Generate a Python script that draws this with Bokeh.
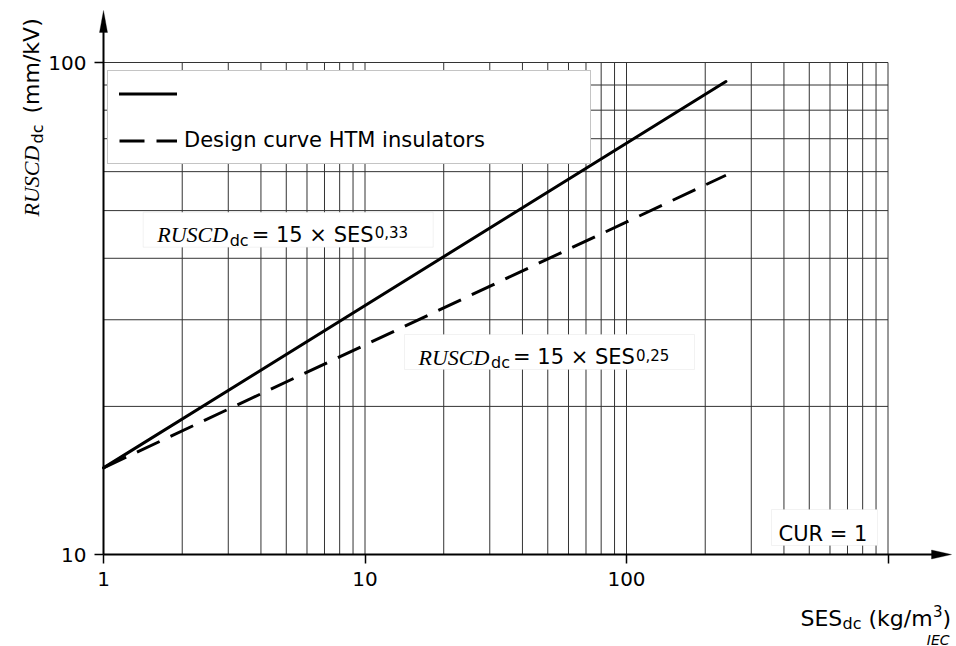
import math
from bokeh.plotting import figure
from bokeh.models import (Range1d, FixedTicker, Legend, LegendItem, BoxAnnotation,
                          Label, PolyAnnotation)
from bokeh.embed import file_html
from bokeh.resources import INLINE

# ---------------- data ----------------
ses_solid = [1, 240]
ruscd_solid = [15, 91.5]
ses_dashed = [1, 240]
ruscd_dashed = [15, 59]

x_ticks = [1, 10, 100, 1000]
x_tick_labels = ["1", "10", "100", ""]
y_ticks = [10, 100]
y_tick_labels = ["10", "100"]

x_grid = [2, 3, 4, 5, 6, 7, 8, 9, 10, 20, 30, 40, 50, 60, 70, 80, 90,
          100, 200, 300, 400, 500, 600, 700, 800, 900, 1000]
y_grid = [20, 30, 40, 50, 60, 70, 80, 90, 100]
grid_x_span = [1, 1000]
grid_y_span = [10, 100]

legend_labels = ["", "Design curve HTM insulators"]
eq1 = ["RUSCD", "dc", "= 15 × SES", "0,33"]
eq2 = ["RUSCD", "dc", "= 15 × SES", "0,25"]
cur_text = "CUR = 1"
x_title = ["SES", "dc", "(kg/m", "3", ")"]
y_title = ["RUSCD", "dc", "(mm/kV)"]
source_text = "IEC"

# ---------------- layout helpers (page pixel -> data) ----------------
W, H = 956, 646
FX0 = 103.0      # pixel x of SES = 1
FY0 = 554.0      # pixel y of RUSCD = 10
DEC_X = 261.5
DEC_Y = 492.0


def xd(px):
    return 10 ** ((px - FX0) / DEC_X)


def yd(py):
    return 10 ** (1 + (FY0 - py) / DEC_Y)


SANS = "DejaVu Sans"
SERIF = "Liberation Serif"

p = figure(width=W, height=H, x_axis_type="log", y_axis_type="log",
           x_range=Range1d(xd(0), xd(W)), y_range=Range1d(yd(H), yd(0)),
           output_backend="svg", toolbar_location=None,
           min_border_left=0, min_border_right=0, min_border_top=0,
           min_border_bottom=0)
p.outline_line_color = None
p.grid.visible = False
p.background_fill_color = "white"
p.border_fill_color = "white"

# grid
p.segment(x0=x_grid, y0=[grid_y_span[0]] * len(x_grid), x1=x_grid,
          y1=[grid_y_span[1]] * len(x_grid), line_color="#333333", line_width=1)
p.segment(x0=[grid_x_span[0]] * len(y_grid), y0=y_grid,
          x1=[grid_x_span[1]] * len(y_grid), y1=y_grid,
          line_color="#333333", line_width=1)

# curves
r1 = p.line(ses_solid, ruscd_solid, line_width=3, line_color="black", line_cap="round")
r2 = p.line(ses_dashed, ruscd_dashed, line_width=3, line_color="black",
            line_dash="25 12")

# axes (placed at SES = 1 and RUSCD = 10)
for ax, ticks, labels in ((p.xaxis[0], x_ticks, x_tick_labels),
                          (p.yaxis[0], y_ticks, y_tick_labels)):
    ax.ticker = FixedTicker(ticks=ticks, minor_ticks=[])
    ax.major_label_overrides = {t: l for t, l in zip(ticks, labels)}
    ax.major_tick_out = 9
    ax.major_tick_in = 0
    ax.major_tick_line_width = 1.5
    ax.major_tick_line_color = "black"
    ax.minor_tick_line_color = None
    ax.axis_line_width = 2
    ax.axis_line_color = "black"
    ax.major_label_text_font = SANS
    ax.major_label_text_font_size = "20px"
    ax.major_label_text_color = "black"
    ax.major_label_standoff = 8
p.xaxis[0].fixed_location = grid_y_span[0]
p.yaxis[0].fixed_location = grid_x_span[0]
p.xaxis[0].bounds = (1, xd(935))
p.yaxis[0].bounds = (10, yd(28))

# arrow heads
p.add_layout(PolyAnnotation(xs=[xd(99), xd(103), xd(107)], ys=[yd(32), yd(10), yd(32)],
                            fill_color="black", fill_alpha=1, line_color="black",
                            line_width=1))
p.add_layout(PolyAnnotation(xs=[xd(931), xd(951), xd(931)],
                            ys=[yd(549.5), yd(554), yd(558.5)],
                            fill_color="black", fill_alpha=1, line_color="black",
                            line_width=1))


def txt(s, px, py, size, font=SANS, style="normal", angle=0.0, align="left"):
    p.add_layout(Label(x=xd(px), y=yd(py), text=s, text_font=font,
                       text_font_size=f"{size}px", text_font_style=style,
                       angle=angle, text_align=align, text_baseline="alphabetic",
                       text_color="black"))


def box(l, t, r, b):
    p.add_layout(BoxAnnotation(left=xd(l), right=xd(r), top=yd(t), bottom=yd(b),
                               fill_color="white", fill_alpha=1,
                               line_color="#d4d4d4", line_width=1))


def equation(parts, bx, by):
    box(bx, by, bx + 290, by + 35)
    txt(parts[0], bx + 14, by + 22.6, 22, font=SERIF, style="italic")
    txt(parts[1], bx + 86.5, by + 28.3, 16)
    txt(parts[2], bx + 108.5, by + 22.6, 21)
    txt(parts[3], bx + 231.5, by + 20.0, 15)


equation(eq1, 142.7, 211.7)
equation(eq2, 404.0, 334.0)

box(771, 509, 877, 545)
txt(cur_text, 778, 533.5, 21)

# legend  (location = bottom-left corner, in pixels from the frame's bottom-left)
legend = Legend(items=[LegendItem(label=legend_labels[0], renderers=[r1]),
                       LegendItem(label=legend_labels[1], renderers=[r2])],
                location=(107, H - 164), orientation="vertical",
                border_line_color="#8a8a8a", border_line_width=1.5,
                background_fill_color="white", background_fill_alpha=1,
                padding=11, spacing=23, margin=0, glyph_width=58, glyph_height=23,
                label_height=23, label_width=395, label_standoff=7,
                label_text_font=SANS, label_text_font_size="21px",
                label_text_color="black")
p.add_layout(legend)

# axis titles
txt(x_title[0], 800, 618, 22)
txt(x_title[1], 842, 623, 16)
txt(x_title[2], 868, 618, 22)
txt(x_title[3], 932.5, 610, 15)
txt(x_title[4], 942, 618, 22)

A = math.pi / 2
txt(y_title[0], 31, 216, 22, font=SERIF, style="italic", angle=A)
txt(y_title[1], 37, 143, 16, angle=A)
txt(y_title[2], 31, 113, 22, angle=A)

txt(source_text, 949, 639, 14, style="italic", align="right")

open("out.html", "w").write(file_html(p, INLINE))
